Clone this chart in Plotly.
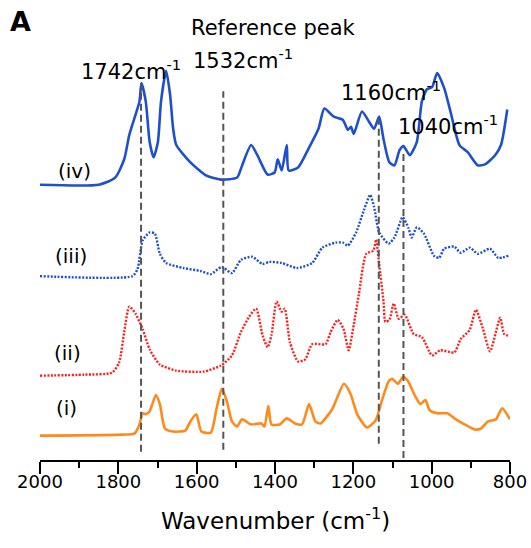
import plotly.graph_objects as go

# ---- data (wavenumber in cm^-1, intensity in arbitrary units above each baseline) ----
wn_iv = [2000, 1850, 1808, 1785, 1772, 1756, 1746, 1741, 1730, 1720, 1710, 1699, 1691, 1678, 1668,
         1660, 1652, 1616, 1575, 1538, 1497, 1484, 1461, 1445, 1419, 1401, 1393, 1383, 1370, 1365,
         1341, 1315, 1289, 1274, 1250, 1227, 1214, 1206, 1199, 1178, 1160, 1147, 1134, 1123, 1108,
         1095, 1082, 1072, 1056, 1038, 1025, 1012, 999, 986, 968, 952, 929, 908, 882, 864, 838, 823, 807]
int_iv = [0, 0, 7, 25, 49, 69, 82, 100, 82, 42, 27, 42, 82, 112, 89,
          55, 39, 22, 9, 5, 7, 19, 39, 29, 10, 12, 25, 14, 39, 14,
          17, 35, 55, 75, 67, 64, 54, 57, 50, 72, 62, 55, 67, 45, 22,
          19, 34, 38, 29, 42, 82, 94, 96, 110, 95, 72, 39, 32, 19, 20, 29, 39, 74]

wn_iii = [2000, 1764, 1751, 1738, 1720, 1707, 1694, 1678, 1634, 1590, 1564, 1536, 1510, 1487, 1458,
          1432, 1414, 1383, 1344, 1305, 1279, 1245, 1227, 1214, 1193, 1173, 1157, 1147, 1134, 1110,
          1095, 1074, 1059, 1051, 1038, 1020, 994, 981, 968, 942, 926, 903, 882, 851, 830, 804]
int_iii = [0, 0, 7, 35, 43, 42, 22, 13, 8, 5, 2, 9, 3, 16, 19,
           12, 14, 13, 8, 13, 28, 33, 33, 30, 43, 65, 80, 68, 43, 32,
           38, 58, 47, 38, 48, 42, 20, 18, 27, 29, 23, 28, 22, 27, 18, 20]

wn_ii = [2000, 1886, 1816, 1798, 1785, 1772, 1756, 1738, 1720, 1694, 1652, 1582, 1538, 1510, 1487,
         1466, 1448, 1432, 1419, 1409, 1396, 1383, 1375, 1362, 1341, 1323, 1305, 1271, 1258, 1240,
         1225, 1212, 1199, 1186, 1167, 1149, 1142, 1134, 1123, 1118, 1108, 1097, 1084, 1069, 1046,
         1025, 999, 978, 942, 926, 903, 887, 869, 851, 825, 815, 802]
int_ii = [0, 1, 3, 13, 43, 68, 61, 46, 26, 11, 5, 4, 10, 20, 43,
          58, 66, 40, 28, 40, 73, 63, 66, 33, 14, 16, 31, 31, 43, 55,
          46, 25, 50, 80, 120, 123, 134, 110, 73, 53, 55, 71, 56, 60, 41,
          38, 20, 25, 23, 36, 45, 65, 46, 24, 57, 41, 39]

wn_i = [2000, 1790, 1759, 1746, 1738, 1730, 1720, 1704, 1694, 1681, 1660, 1629, 1616, 1601, 1588,
        1564, 1549, 1536, 1523, 1510, 1497, 1484, 1461, 1435, 1427, 1417, 1409, 1388, 1370, 1349,
        1331, 1313, 1297, 1284, 1254, 1224, 1207, 1190, 1165, 1143, 1126, 1109, 1101, 1086, 1073,
        1061, 1041, 1029, 1016, 1005, 986, 960, 942, 916, 890, 874, 856, 836, 820, 800]
int_i = [0, 1, 2, 11, 22, 21, 24, 40, 31, 7, 4, 5, 14, 21, 4,
         3, 27, 46, 34, 14, 9, 16, 11, 12, 9, 29, 11, 11, 17, 12,
         11, 31, 14, 12, 26, 51, 41, 21, 8, 15, 36, 54, 56, 51, 58,
         54, 38, 31, 35, 25, 22, 22, 17, 11, 6, 7, 14, 16, 27, 16]

offsets = {"i": 24, "ii": 83, "iii": 181, "iv": 271}
series_labels = ["(i)", "(ii)", "(iii)", "(iv)"]

ref_peaks = [1742, 1532, 1135, 1072]
ref_peak_labels = ["1742cm<sup>-1</sup>", "1532cm<sup>-1</sup>", "1160cm<sup>-1</sup>", "1040cm<sup>-1</sup>"]
ref_line_bottom = [8, 10, 16, 2]
ref_line_top = [371, 363, 335, 305]

x_ticks = [2000, 1800, 1600, 1400, 1200, 1000, 800]

FONT = "DejaVu Sans"
BLUE = "#1f50cc"
RED = "#ff1f1f"
ORANGE = "#ff8a1c"

fig = go.Figure()

def add(wn, vals, off, color, dash, width):
    fig.add_trace(go.Scatter(x=wn, y=[v + off for v in vals], mode="lines",
                             line=dict(color=color, width=width, dash=dash, shape="spline", smoothing=0.6),
                             hoverinfo="skip"))

add(wn_i, int_i, offsets["i"], ORANGE, "solid", 2.6)
add(wn_ii, int_ii, offsets["ii"], RED, "2px,1.5px", 2.4)
add(wn_iii, int_iii, offsets["iii"], BLUE, "2px,1.5px", 2.4)
add(wn_iv, int_iv, offsets["iv"], BLUE, "solid", 2.6)

for xp, y0, y1 in zip(ref_peaks, ref_line_bottom, ref_line_top):
    fig.add_shape(type="line", xref="x", yref="y", x0=xp, x1=xp, y0=y0, y1=y1,
                  line=dict(color="#555555", width=2, dash="7px,4px"), layer="above")

def px2paper_x(px):
    return (px - 40) / 470.0

def px2paper_y(py):
    return (460 - py) / 460.0

ann = []
# panel letter
ann.append(dict(text="<b>A</b>", x=px2paper_x(20.5), y=px2paper_y(22), font=dict(size=27)))
ann.append(dict(text="Reference peak", x=px2paper_x(273.5), y=px2paper_y(28), font=dict(size=21)))
peak_label_pos = [(78.6, 70), (190.7, 59), (338.6, 91), (395.5, 125)]
for lab, (px, py) in zip(ref_peak_labels, peak_label_pos):
    ann.append(dict(text=lab, x=px2paper_x(px), y=px2paper_y(py), xanchor="left", font=dict(size=21)))
series_pos = [(66.5, 408), (67.7, 353), (70.8, 256), (74, 171)]
for lab, (px, py) in zip(series_labels, series_pos):
    ann.append(dict(text=lab, x=px2paper_x(px), y=px2paper_y(py), font=dict(size=20)))
ann.append(dict(text="Wavenumber (cm<sup>-1</sup>)", x=px2paper_x(275), y=px2paper_y(519), font=dict(size=23)))

for a in ann:
    a.setdefault("xanchor", "center")
    a.update(xref="paper", yref="paper", yanchor="middle", showarrow=False)
    a["font"].update(family=FONT, color="black")

fig.update_layout(
    width=531, height=548,
    margin=dict(l=40, r=21, t=0, b=88),
    paper_bgcolor="white", plot_bgcolor="white",
    showlegend=False,
    annotations=ann,
    xaxis=dict(range=[2000, 800], tickvals=x_ticks, ticks="outside", ticklen=12, tickwidth=2,
               tickcolor="black", showline=True, linewidth=2, linecolor="black",
               showgrid=False, zeroline=False, ticklabelstandoff=-8,
               tickfont=dict(family=FONT, size=18, color="black"),
               minor=dict(dtick=100, ticks="outside", ticklen=6, tickwidth=2, tickcolor="black", showgrid=False)),
    yaxis=dict(range=[0, 452.8], visible=False, fixedrange=True),
)

fig.write_html("out.html")
